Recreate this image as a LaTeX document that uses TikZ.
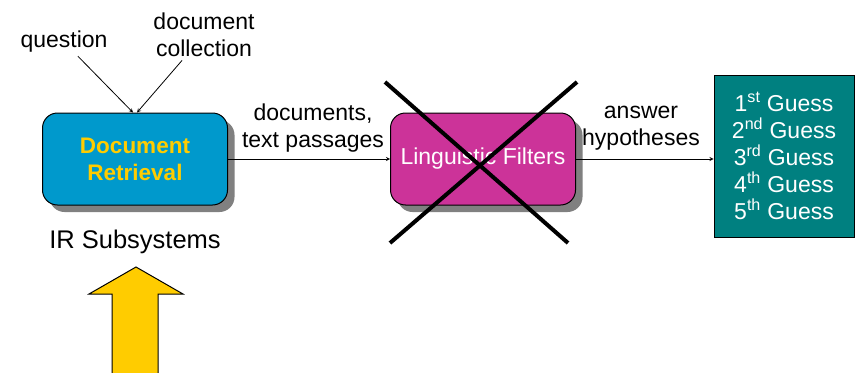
\documentclass[tikz,border=0pt]{standalone}
\usepackage{fontspec}
\setmainfont{Liberation Sans}
\usepackage[table]{xcolor}
\usepackage{tikz}
\usetikzlibrary{shadows}
\definecolor{drblue}{HTML}{0099CC}
\definecolor{drgold}{HTML}{FFCC00}
\definecolor{lfpink}{HTML}{CC3399}
\definecolor{guessteal}{HTML}{008080}

\begin{document}
\begin{tikzpicture}[x=1pt, y=-1pt, >=stealth,
  every node/.style={font=\fontsize{23}{27}\selectfont, align=center},
  box/.style={draw, line width=1pt, rounded corners=15pt, minimum width=185pt, minimum height=92pt,
    drop shadow={shadow xshift=7pt, shadow yshift=-7pt, fill=black!50, opacity=1}},
  flow/.style={->, line width=0.8pt}]
\useasboundingbox (0,0) rectangle (856,372);
\node (question) at (64,42) {question};
\node (collection) at (204,35) {document\\collection};
\node[box, fill=drblue, text=drgold, font=\fontsize{22.5}{27}\selectfont\bfseries] (dr) at (135,159) {Document\\Retrieval};
\node[font=\fontsize{25.5}{30}\selectfont] (ir) at (135,242) {IR Subsystems};
\node (docs) at (313,128) {documents,\\text passages};
\node[box, fill=lfpink, text=white] (lf) at (483,159) {Linguistic Filters};
\node (answer) at (641,128) {answer\\hypotheses};
\node[draw, line width=1pt, fill=guessteal, text=white, minimum width=140pt, minimum height=162pt] (guess) at (784,156)
  {1\textsuperscript{st} Guess\\2\textsuperscript{nd} Guess\\3\textsuperscript{rd} Guess\\4\textsuperscript{th} Guess\\5\textsuperscript{th} Guess};
\draw[flow] (question) -- ([xshift=-2pt]dr.north);
\draw[flow] (collection) -- ([xshift=2pt]dr.north);
\draw[flow] (dr) -- (lf);
\draw[flow] (lf.east) -- (lf.east -| guess.west);
% crossed out
\draw[line width=4pt] (385,82) -- (568,243);
\draw[line width=4pt] (577,82) -- (390,243);
% big arrow
\fill[drgold] (112,373) -- (112,294) -- (89,294) -- (136,267) -- (183,294) -- (158,294) -- (158,373) -- cycle;
\draw[line width=1pt] (112,373) -- (112,294) -- (89,294) -- (136,267) -- (183,294) -- (158,294) -- (158,373);
\end{tikzpicture}
\end{document}
